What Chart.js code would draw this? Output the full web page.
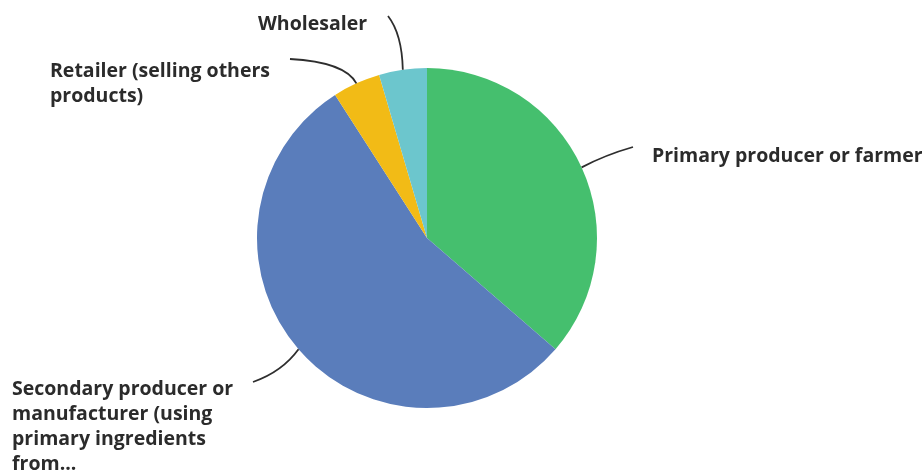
<!DOCTYPE html>
<html>
<head>
<meta charset="utf-8">
<script src="https://cdn.jsdelivr.net/npm/chart.js@4.4.1/dist/chart.umd.min.js"></script>
<style>
  html, body { margin: 0; padding: 0; background: #ffffff; }
  #wrap { width: 922px; height: 474px; position: relative; }
</style>
</head>
<body>
<div id="wrap"><canvas id="chart" width="922" height="474"></canvas></div>
<script>
// Respondent type counts
const categories = [
  'Primary producer or farmer',
  'Secondary producer or manufacturer (using primary ingredients from...',
  'Retailer (selling others products)',
  'Wholesaler'
];
const counts = [8, 12, 1, 1];
const sliceColors = ['#45bf6e', '#5a7dbb', '#f2bb16', '#6cc6cd'];

// Wrapped label text drawn beside each slice
const labelLines = [
  ['Primary producer or farmer'],
  ['Secondary producer or', 'manufacturer (using', 'primary ingredients', 'from...'],
  ['Retailer (selling others', 'products)'],
  ['Wholesaler']
];

// Where each label block sits and where its leader line starts
const labelLayout = [
  { x: 652, y: 156, lineStart: [633, 147], ctrl: [605, 155] },
  { x: 12,  y: 389, lineStart: [253, 382], ctrl: [282, 372] },
  { x: 50,  y: 71,  lineStart: [290, 59],  ctrl: [345, 62] },
  { x: 258, y: 24,  lineStart: [388, 16],  ctrl: [402, 34] }
];

const calloutPlugin = {
  id: 'callouts',
  afterDraw(chart) {
    const ctx = chart.ctx;
    const meta = chart.getDatasetMeta(0);
    ctx.save();
    meta.data.forEach((arc, i) => {
      const p = arc.getProps(['x', 'y', 'startAngle', 'endAngle', 'outerRadius'], true);
      const mid = (p.startAngle + p.endAngle) / 2;
      const ax = p.x + Math.cos(mid) * p.outerRadius;
      const ay = p.y + Math.sin(mid) * p.outerRadius;
      const L = labelLayout[i];
      ctx.beginPath();
      ctx.moveTo(L.lineStart[0], L.lineStart[1]);
      ctx.quadraticCurveTo(L.ctrl[0], L.ctrl[1], ax, ay);
      ctx.strokeStyle = '#2e2e2e';
      ctx.lineWidth = 1.8;
      ctx.stroke();

      ctx.fillStyle = '#2b2b2b';
      ctx.font = 'bold 19.5px "Open Sans", sans-serif';
      ctx.textAlign = 'left';
      ctx.textBaseline = 'middle';
      labelLines[i].forEach((t, k) => {
        ctx.fillText(t, L.x, L.y + k * 25.3);
      });
    });
    ctx.restore();
  }
};

new Chart(document.getElementById('chart'), {
  type: 'pie',
  data: {
    labels: categories,
    datasets: [{
      data: counts,
      backgroundColor: sliceColors,
      borderWidth: 0
    }]
  },
  options: {
    responsive: false,
    animation: false,
    layout: { padding: { left: 257, right: 325, top: 68, bottom: 66 } },
    plugins: {
      legend: { display: false },
      tooltip: { enabled: false }
    }
  },
  plugins: [calloutPlugin]
});
</script>
</body>
</html>
